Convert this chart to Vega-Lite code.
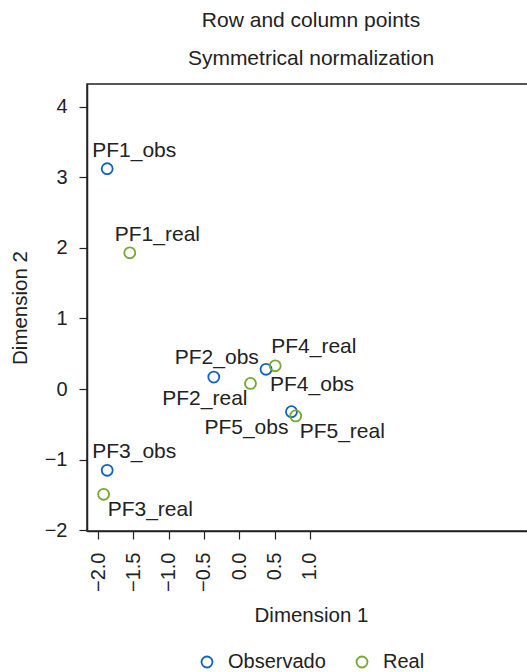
{
  "$schema": "https://vega.github.io/schema/vega-lite/v6.json",
  "width": 448,
  "height": 447,
  "padding": {"left": 10, "top": 10, "right": 0, "bottom": 5},
  "background": "white",
  "config": {
    "font": "Liberation Sans",
    "view": {"stroke": "#222", "strokeWidth": 1.5},
    "axis": {"grid": false, "domainColor": "#222", "tickColor": "#222", "labelColor": "#222", "titleColor": "#222", "labelFont": "Liberation Sans", "titleFont": "Liberation Sans", "labelFontSize": 20, "titleFontSize": 20.5, "titleFontWeight": "normal", "tickSize": 8, "domainWidth": 1.5, "tickWidth": 1.2},
    "legend": {"layout": {"bottom": {"anchor": "middle"}}}
  },
  "title": {
    "text": "Row and column points",
    "subtitle": "Symmetrical normalization",
    "fontSize": 21,
    "fontWeight": "normal",
    "font": "Liberation Sans",
    "subtitleFont": "Liberation Sans",
    "subtitleFontSize": 21,
    "subtitleColor": "#222",
    "color": "#222",
    "subtitlePadding": 17,
    "offset": 15,
    "anchor": "middle"
  },
  "data": {
    "values": [
      {"label": "PF1_obs", "type": "Observado", "x": -1.87, "y": 3.12},
      {"label": "PF2_obs", "type": "Observado", "x": -0.36, "y": 0.17},
      {"label": "PF3_obs", "type": "Observado", "x": -1.87, "y": -1.15},
      {"label": "PF4_obs", "type": "Observado", "x": 0.38, "y": 0.28},
      {"label": "PF5_obs", "type": "Observado", "x": 0.74, "y": -0.32},
      {"label": "PF1_real", "type": "Real", "x": -1.55, "y": 1.93},
      {"label": "PF2_real", "type": "Real", "x": 0.16, "y": 0.08},
      {"label": "PF3_real", "type": "Real", "x": -1.92, "y": -1.49},
      {"label": "PF4_real", "type": "Real", "x": 0.51, "y": 0.33},
      {"label": "PF5_real", "type": "Real", "x": 0.8, "y": -0.38}
    ]
  },
  "encoding": {
    "x": {"field": "x", "type": "quantitative", "scale": {"domain": [-2.156, 4.19], "nice": false, "zero": false},
      "axis": {"title": "Dimension 1", "values": [-2, -1.5, -1, -0.5, 0, 0.5, 1], "format": ".1f", "labelAngle": -90, "labelAlign": "right", "labelBaseline": "middle", "labelPadding": 13, "titlePadding": 14}},
    "y": {"field": "y", "type": "quantitative", "scale": {"domain": [-2.01, 4.32], "nice": false, "zero": false},
      "axis": {"title": "Dimension 2", "values": [-2, -1, 0, 1, 2, 3, 4], "labelPadding": 12, "titlePadding": 14}}
  },
  "layer": [
    {
      "mark": {"type": "point", "shape": "circle", "filled": false, "size": 120, "strokeWidth": 1.8, "opacity": 1},
      "encoding": {
        "color": {"field": "type", "type": "nominal", "scale": {"domain": ["Observado", "Real"], "range": ["#1262ba", "#74a832"]},
          "legend": {"title": null, "orient": "bottom", "direction": "horizontal", "labelFontSize": 20, "labelFont": "Liberation Sans", "labelColor": "#222", "symbolSize": 120, "symbolStrokeWidth": 1.8, "symbolOpacity": 1, "columnPadding": 26, "labelOffset": 11, "offset": 26}}
      }
    },
    {
      "transform": [{"filter": {"field": "label", "oneOf": ["PF1_obs", "PF1_real", "PF3_obs"]}}],
      "mark": {"type": "text", "align": "left", "baseline": "middle", "dx": -15, "dy": -18, "fontSize": 21, "color": "#222"},
      "encoding": {"text": {"field": "label"}}
    },
    {
      "transform": [{"filter": {"field": "label", "oneOf": ["PF2_obs"]}}],
      "mark": {"type": "text", "align": "center", "baseline": "middle", "dx": 3, "dy": -19, "fontSize": 21, "color": "#222"},
      "encoding": {"text": {"field": "label"}}
    },
    {
      "transform": [{"filter": {"field": "label", "oneOf": ["PF4_real"]}}],
      "mark": {"type": "text", "align": "left", "baseline": "middle", "dx": -4, "dy": -19, "fontSize": 21, "color": "#222"},
      "encoding": {"text": {"field": "label"}}
    },
    {
      "transform": [{"filter": {"field": "label", "oneOf": ["PF4_obs", "PF5_real", "PF3_real"]}}],
      "mark": {"type": "text", "align": "left", "baseline": "middle", "dx": 4, "dy": 16, "fontSize": 21, "color": "#222"},
      "encoding": {"text": {"field": "label"}}
    },
    {
      "transform": [{"filter": {"field": "label", "oneOf": ["PF2_real", "PF5_obs"]}}],
      "mark": {"type": "text", "align": "right", "baseline": "middle", "dx": -3, "dy": 16, "fontSize": 21, "color": "#222"},
      "encoding": {"text": {"field": "label"}}
    }
  ]
}
